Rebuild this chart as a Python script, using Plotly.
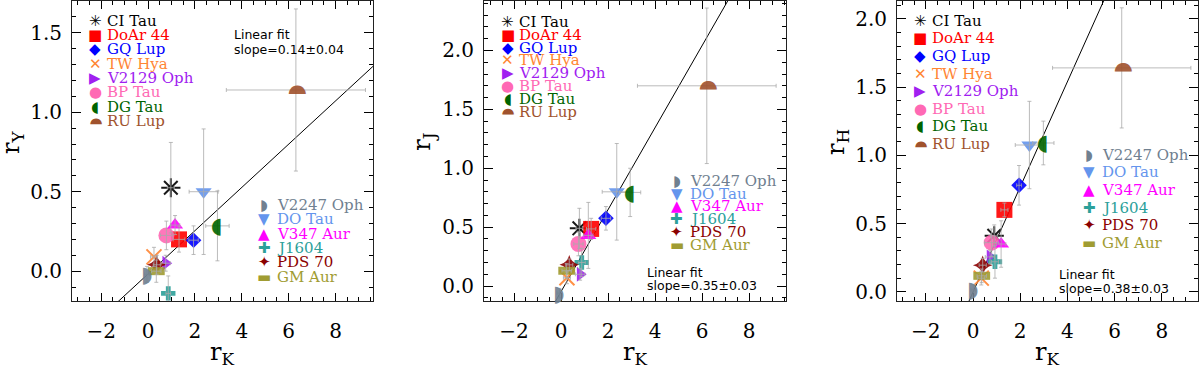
import plotly.graph_objects as go

# ---- values ----
stars = ["CI Tau", "DoAr 44", "GQ Lup", "TW Hya", "V2129 Oph", "BP Tau", "DG Tau",
         "RU Lup", "V2247 Oph", "DO Tau", "V347 Aur", "J1604", "PDS 70", "GM Aur"]

# r_Y vs r_K
rK_Y = [0.97, 1.32, 1.94, 0.25, 0.75, 0.78, 2.96, 6.31, -0.05, 2.37, 1.15, 0.86, 0.37, 0.35]
rY = [0.525, 0.20, 0.195, 0.09, 0.05, 0.225, 0.285, 1.14, -0.02, 0.50, 0.29, -0.14, 0.04, 0.0]
rK_Y_err = [0.15, 0.25, 0.2, 0.15, 0.2, 0.25, 0.5, 2.97, 0.1, 0.62, 0.2, 0.1, 0.15, 0.2]
rY_err = [0.285, 0.08, 0.09, 0.06, 0.05, 0.09, 0.22, 0.51, 0.05, 0.395, 0.06, 0.11, 0.06, 0.07]

# r_J vs r_K
rK_J = [0.78, 1.28, 1.91, 0.25, 0.81, 0.74, 2.94, 6.20, -0.07, 2.37, 1.16, 0.88, 0.35, 0.24]
rJ = [0.49, 0.485, 0.575, 0.07, 0.10, 0.357, 0.795, 1.70, -0.06, 0.80, 0.43, 0.20, 0.18, 0.13]
rK_J_err = [0.15, 0.2, 0.2, 0.15, 0.2, 0.2, 0.45, 2.95, 0.1, 0.62, 0.2, 0.15, 0.15, 0.2]
rJ_err = [0.17, 0.09, 0.1, 0.05, 0.05, 0.1, 0.205, 0.66, 0.04, 0.41, 0.28, 0.12, 0.05, 0.06]

# r_H vs r_K
rK_H = [0.90, 1.33, 1.95, 0.35, 0.72, 0.79, 2.98, 6.30, 0.01, 2.39, 1.19, 0.93, 0.41, 0.37]
rH = [0.41, 0.60, 0.78, 0.10, 0.255, 0.36, 1.09, 1.64, 0.015, 1.075, 0.35, 0.22, 0.195, 0.117]
rK_H_err = [0.15, 0.15, 0.1, 0.15, 0.2, 0.3, 0.45, 2.93, 0.1, 0.6, 0.2, 0.15, 0.15, 0.2]
rH_err = [0.08, 0.05, 0.145, 0.05, 0.05, 0.1, 0.16, 0.44, 0.04, 0.32, 0.17, 0.12, 0.05, 0.05]

# linear fit lines (end points)
fit_Y_x = [-1.5, 10.0]
fit_Y_y = [-0.221, 1.343]
fit_J_x = [-0.5, 7.5]
fit_J_y = [-0.221, 2.563]
fit_H_x = [-0.3, 6.0]
fit_H_y = [-0.118, 2.31]

slope_labels = ["slope=0.14\u00b10.04", "slope=0.35\u00b10.03", "slope=0.38\u00b10.03"]
y_titles = ["r<sub>Y</sub>", "r<sub>J</sub>", "r<sub>H</sub>"]

# ---- styles ----
colors = ["#000000", "#ff0000", "#0000ff", "#ff8533", "#a020f0", "#ff69b4", "#006400",
          "#a0522d", "#708090", "#6495ed", "#ff00ff", "#2ca09a", "#8b0000", "#a09c32"]
symbols = {
    "CI Tau": dict(symbol="asterisk-open", size=16, line=dict(width=2)),
    "DoAr 44": dict(symbol="square", size=16),
    "GQ Lup": dict(symbol="diamond", size=12),
    "TW Hya": dict(symbol="x-thin-open", size=15, line=dict(width=2)),
    "V2129 Oph": dict(symbol="triangle-right", size=13),
    "BP Tau": dict(symbol="circle", size=16),
    "V2247 Oph": None, "DG Tau": None, "RU Lup": None,
    "DO Tau": dict(symbol="triangle-down", size=14),
    "V347 Aur": dict(symbol="triangle-up", size=14),
    "J1604": dict(symbol="cross", size=12),
    "PDS 70": dict(symbol="star-diamond", size=14),
    "GM Aur": dict(symbol="line-ew-open", size=12, line=dict(width=8)),
}
# half discs drawn as glyphs: (glyph, text angle)
half_discs = {"DG Tau": ("\u25d6", 0), "V2247 Oph": ("\u25d7", 0), "RU Lup": ("\u25d7", -90)}
legend_glyphs = ["\u2733", "\u25a0", "\u25c6", "\u2715", "\u25b6", "\u25cf", "\u25d6",
                 "\u25d7", "\u25d7", "\u25bc", "\u25b2", "\u271a", "\u2726", "\u25ac"]
legend_angles = [0, 0, 0, 0, 0, 0, 0, -90, 0, 0, 0, 0, 0, 0]

panels = [
    dict(x=rK_Y, y=rY, ex=rK_Y_err, ey=rY_err, fx=fit_Y_x, fy=fit_Y_y,
         xdom=[0.06, 0.3108], xr=[-3.25, 9.6], yr=[-0.19, 1.70],
         leg_top=0.934, leg_step=0.0477, leg2_top=0.321, fit_y=[0.887, 0.840]),
    dict(x=rK_J, y=rJ, ex=rK_J_err, ey=rJ_err, fx=fit_J_x, fy=fit_J_y,
         xdom=[0.4033, 0.655], xr=[-3.28, 9.57], yr=[-0.13, 2.42],
         leg_top=0.931, leg_step=0.043, leg2_top=0.402, fit_y=[0.096, 0.052]),
    dict(x=rK_H, y=rH, ex=rK_H_err, ey=rH_err, fx=fit_H_x, fy=fit_H_y,
         xdom=[0.7475, 0.9983], xr=[-3.22, 9.53], yr=[-0.07, 2.13],
         leg_top=0.934, leg_step=0.0586, leg2_top=0.488, fit_y=[0.089, 0.043]),
]

fig = go.Figure()
annotations = []
serif = "DejaVu Serif"

for p_i, p in enumerate(panels):
    n = "" if p_i == 0 else str(p_i + 1)
    xa, ya = "x" + n, "y" + n

    # fit line
    fig.add_trace(go.Scatter(x=p["fx"], y=p["fy"], mode="lines", xaxis=xa, yaxis=ya,
                             line=dict(color="black", width=1), showlegend=False,
                             hoverinfo="skip"))

    # data points, drawn in legend order
    for i, star in enumerate(stars):
        if symbols[star] is not None:
            m = dict(symbols[star])
            m["color"] = colors[i]
            m["line"] = dict(m.get("line", dict(width=0)), color=colors[i])
            fig.add_trace(go.Scatter(x=[p["x"][i]], y=[p["y"][i]], mode="markers",
                                     xaxis=xa, yaxis=ya, marker=m, opacity=0.9,
                                     name=star, showlegend=False))
        else:
            glyph, ang = half_discs[star]
            annotations.append(dict(
                x=p["x"][i], y=p["y"][i], xref=xa, yref=ya, text=glyph,
                textangle=ang, showarrow=False, xanchor="center", yanchor="middle",
                font=dict(family="DejaVu Sans", size=22, color=colors[i]), opacity=0.9))

    # error bars on top
    fig.add_trace(go.Scatter(
        x=p["x"], y=p["y"], mode="markers", xaxis=xa, yaxis=ya,
        marker=dict(size=1, color="rgba(0,0,0,0)"), showlegend=False, hoverinfo="skip",
        error_x=dict(type="data", array=p["ex"], color="rgba(170,170,170,0.8)",
                     thickness=1, width=2),
        error_y=dict(type="data", array=p["ey"], color="rgba(170,170,170,0.8)",
                     thickness=1, width=2)))

    # legend built from text
    xd, yd = xa + " domain", ya + " domain"
    for i, star in enumerate(stars):
        if i < 8:
            yy = p["leg_top"] - i * p["leg_step"]
            xs, xt = 0.078, 0.114
        else:
            yy = p["leg2_top"] - (i - 8) * p["leg_step"]
            xs, xt = 0.639, 0.678
        annotations.append(dict(x=xs, y=yy, xref=xd, yref=yd, text=legend_glyphs[i],
                                textangle=legend_angles[i], borderpad=0,
                                showarrow=False, xanchor="center", yanchor="middle",
                                font=dict(family="DejaVu Sans", size=15, color=colors[i])))
        annotations.append(dict(x=xt, y=yy, xref=xd, yref=yd, text=star, borderpad=0,
                                showarrow=False, xanchor="left", yanchor="middle",
                                font=dict(family=serif, size=15, color=colors[i])))

    annotations.append(dict(x=0.535, y=p["fit_y"][0], xref=xd, yref=yd, text="Linear fit",
                            showarrow=False, xanchor="left", yanchor="middle", borderpad=0,
                            font=dict(family="DejaVu Sans", size=12.5, color="black")))
    annotations.append(dict(x=0.535, y=p["fit_y"][1], xref=xd, yref=yd,
                            text=slope_labels[p_i], showarrow=False, xanchor="left",
                            yanchor="middle", borderpad=0,
                            font=dict(family="DejaVu Sans", size=12.5, color="black")))

    # axis titles
    annotations.append(dict(x=0.5, y=-0.172, xref=xd, yref=yd, text="r<sub>K</sub>",
                            showarrow=False, xanchor="center", yanchor="middle",
                            font=dict(family=serif, size=24, color="black")))
    annotations.append(dict(x=-0.2, y=0.53, xref=xd, yref=yd, text=y_titles[p_i],
                            textangle=-90, showarrow=False, xanchor="center",
                            yanchor="middle",
                            font=dict(family=serif, size=24, color="black")))

    common = dict(showline=True, linecolor="#222222", linewidth=1, mirror="allticks",
                  ticks="inside", tickcolor="black", tickwidth=1, showgrid=False,
                  zeroline=False, tickfont=dict(family=serif, size=20, color="black"))
    fig.update_layout({
        "xaxis" + n: dict(common, domain=p["xdom"], range=p["xr"], anchor=ya,
                          tick0=0, dtick=2, ticklen=8, ticklabelstandoff=12,
                          minor=dict(dtick=0.5, ticks="inside", ticklen=4,
                                     tickcolor="black", showgrid=False)),
        "yaxis" + n: dict(common, domain=[0.1766, 0.9973], range=p["yr"], anchor=xa,
                          tick0=0, dtick=0.5, tickformat=".1f", ticklen=9,
                          ticklabelstandoff=5,
                          minor=dict(dtick=0.1, ticks="inside", ticklen=4,
                                     tickcolor="black", showgrid=False)),
    })

fig.update_layout(width=1200, height=368, margin=dict(l=0, r=0, t=0, b=0),
                  paper_bgcolor="white", plot_bgcolor="white", showlegend=False,
                  annotations=annotations)

# drop the page's default body margin so the figure sits at the window corner
fig.write_html("out.html", config={"displayModeBar": False},
               post_script="document.body.style.margin = '0';")
